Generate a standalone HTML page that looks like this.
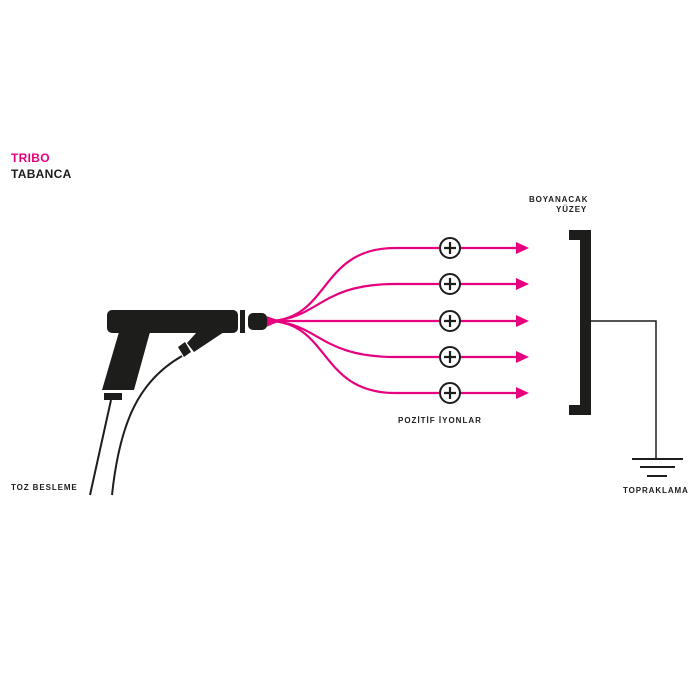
<!DOCTYPE html>
<html><head><style>
html,body{margin:0;padding:0;background:#fff;}
svg{display:block}
text{font-family:"Liberation Sans",sans-serif;font-weight:bold;}
</style></head><body>
<svg width="700" height="700" viewBox="0 0 700 700">
<rect width="700" height="700" fill="#fff"/>
<text x="11" y="162" font-size="12" fill="#e6007e" letter-spacing="0.3">TRIBO</text>
<text x="11" y="178" font-size="12" fill="#1d1d1b" letter-spacing="0.3">TABANCA</text>
<text x="529" y="202" font-size="8" fill="#1d1d1b" letter-spacing="0.9">BOYANACAK</text>
<text x="556" y="212" font-size="8" fill="#1d1d1b" letter-spacing="0.9">YÜZEY</text>
<text x="398" y="423" font-size="8" fill="#1d1d1b" letter-spacing="1">POZİTİF İYONLAR</text>
<text x="11" y="490" font-size="8" fill="#1d1d1b" letter-spacing="0.9">TOZ BESLEME</text>
<text x="623" y="493" font-size="8" fill="#1d1d1b" letter-spacing="0.9">TOPRAKLAMA</text>
<!-- spray -->
<g stroke="#e6007e" stroke-width="2.2" fill="none">
<path d="M271 321 C330 318 320 248 395 248 L520 248"/>
<path d="M271 321 C320 318 320 284 395 284 L520 284"/>
<path d="M271 321 L520 321"/>
<path d="M271 321 C320 324 320 357 395 357 L520 357"/>
<path d="M271 321 C330 324 320 393 395 393 L520 393"/>
<path d="M266 316 L278 320 L278 322 L266 327 Z" fill="#e6007e" stroke="none"/>
</g>
<g fill="#e6007e">
<polygon points="516,242 529,248 516,254"/>
<polygon points="516,278 529,284 516,290"/>
<polygon points="516,315 529,321 516,327"/>
<polygon points="516,351 529,357 516,363"/>
<polygon points="516,387 529,393 516,399"/>
</g>
<g stroke="#1d1d1b" stroke-width="2" fill="#fff">
<circle cx="450" cy="248" r="10"/><circle cx="450" cy="284" r="10"/><circle cx="450" cy="321" r="10"/><circle cx="450" cy="357" r="10"/><circle cx="450" cy="393" r="10"/>
</g>
<g stroke="#1d1d1b" stroke-width="2.2">
<path d="M444 248h12M450 242v12M444 284h12M450 278v12M444 321h12M450 315v12M444 357h12M450 351v12M444 393h12M450 387v12"/>
</g>
<!-- bracket -->
<g fill="#1d1d1b">
<rect x="580" y="230" width="11" height="185"/>
<rect x="569" y="230" width="12" height="10"/>
<rect x="569" y="405" width="12" height="10"/>
</g>
<g stroke="#1d1d1b" stroke-width="1.5" fill="none">
<path d="M591 321 H656 V459"/>
<path d="M632 459h51M640 467h35M647 476h20" stroke-width="2"/>
</g>
<!-- gun -->
<g fill="#1d1d1b">
<rect x="107" y="310" width="131" height="23" rx="5"/>
<rect x="240" y="310" width="5" height="23"/>
<rect x="248" y="313" width="19" height="17" rx="5"/>
<polygon points="119,332 150,332 134,390 102,390"/>
<rect x="104" y="393" width="18" height="7"/>
<polygon points="197,332 224,332 194,352 187,343"/>
<polygon points="178,347 185,342 191,352 184,357"/>
</g>
<g stroke="#1d1d1b" stroke-width="2" fill="none">
<path d="M111 400 L90 495"/>
<path d="M182 356 C140 380 120 420 112 495"/>
</g>
</svg>
</body></html>
